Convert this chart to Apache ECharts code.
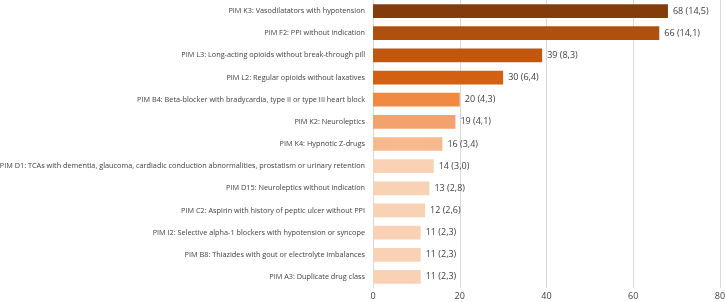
<!DOCTYPE html>
<html>
<head>
<meta charset="utf-8">
<script src="https://cdn.jsdelivr.net/npm/echarts@6/dist/echarts.min.js"></script>
<style>html,body{margin:0;padding:0;background:#fff;}#c{width:725px;height:302px;}</style>
</head>
<body>
<div id="c"></div>
<script>
const categories = [
  "PIM K3: Vasodilatators with hypotension",
  "PIM F2: PPI without indication",
  "PIM L3: Long-acting opioids without break-through pill",
  "PIM L2: Regular opioids without laxatives",
  "PIM B4: Beta-blocker with bradycardia, type II or type III heart block",
  "PIM K2: Neuroleptics",
  "PIM K4: Hypnotic Z-drugs",
  "PIM D1: TCAs with dementia, glaucoma, cardiadic conduction abnormalities, prostatism or urinary retention",
  "PIM D15: Neuroleptics without indication",
  "PIM C2: Aspirin with history of peptic ulcer without PPI",
  "PIM I2: Selective alpha-1 blockers with hypotension or syncope",
  "PIM B8: Thiazides with gout or electrolyte imbalances",
  "PIM A3: Duplicate drug class"
];
const counts = [68, 66, 39, 30, 20, 19, 16, 14, 13, 12, 11, 11, 11];
const percents = ["14,5", "14,1", "8,3", "6,4", "4,3", "4,1", "3,4", "3,0", "2,8", "2,6", "2,3", "2,3", "2,3"];
const colors = ["#843C0C", "#B0500F", "#C0570F", "#D26013", "#F08A42", "#F2A26A", "#F6B990",
  "#F9D2B6", "#F9D2B6", "#F9D2B6", "#F9D2B6", "#F9D2B6", "#F9D2B6"];

const chart = echarts.init(document.getElementById('c'));
chart.setOption({
  animation: false,
  grid: { left: 373, right: 5, top: 0, bottom: 14, containLabel: false, outerBoundsMode: 'none' },
  xAxis: {
    type: 'value', min: 0, max: 80, interval: 20,
    axisLine: { show: false }, axisTick: { show: false },
    splitLine: { show: true, lineStyle: { color: '#d9d9d9', width: 1 } },
    axisLabel: { color: '#404040', fontSize: 9, fontFamily: 'Open Sans', margin: 4 }
  },
  yAxis: {
    type: 'category', data: categories, inverse: true,
    axisLine: { show: true, lineStyle: { color: '#d9d9d9' } },
    axisTick: { show: false },
    axisLabel: { color: '#404040', fontSize: 7.3, fontFamily: 'Open Sans', margin: 8 }
  },
  series: [{
    type: 'bar',
    barCategoryGap: '38%',
    data: counts.map((v, i) => ({ value: v, itemStyle: { color: colors[i] } })),
    label: {
      show: true, position: 'right', distance: 5,
      color: '#404040', fontSize: 9, fontFamily: 'Open Sans',
      formatter: p => p.value + ' (' + percents[p.dataIndex] + ')'
    }
  }]
});
</script>
</body>
</html>
